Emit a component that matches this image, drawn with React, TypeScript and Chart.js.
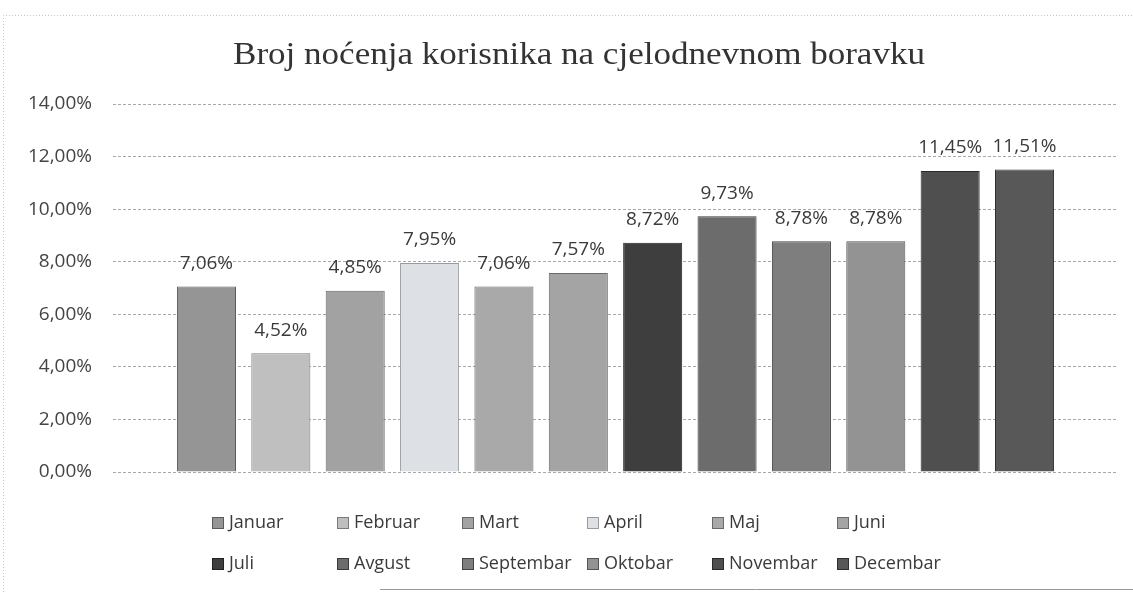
import React, { useEffect, useRef } from "react";
import { Chart, registerables } from "chart.js";

Chart.register(...registerables);

const titleText = "Broj noćenja korisnika na cjelodnevnom boravku";
const months = ["Januar", "Februar", "Mart", "April", "Maj", "Juni", "Juli", "Avgust", "Septembar", "Oktobar", "Novembar", "Decembar"];
const barValues = [7.06, 4.52, 6.9, 7.95, 7.06, 7.57, 8.72, 9.73, 8.78, 8.78, 11.45, 11.51];
const labelValues = [7.06, 4.52, 4.85, 7.95, 7.06, 7.57, 8.72, 9.73, 8.78, 8.78, 11.45, 11.51];
const barColors = ["#959595", "#bfbfbf", "#a2a2a2", "#dde0e4", "#a9a9a9", "#a4a4a4", "#3e3e3e", "#6c6c6c", "#7e7e7e", "#939393", "#4f4f4f", "#585858"];
const borderColors = ["#5a5a5a", "#7a7a7a", "#666", "#9a9a9a", "#6a6a6a", "#6a6a6a", "#222", "#3a3a3a", "#444", "#555", "#2a2a2a", "#2e2e2e"];
const yMin = 0;
const yMax = 14;
const yStep = 2;

const fmt = (v: number) => v.toFixed(2).replace(".", ",") + "%";

const FONT = "'Open Sans', 'Noto Sans', sans-serif";
const SERIF = "'Liberation Serif', 'DejaVu Serif', serif";

const titlePlugin = {
  id: "wideTitle",
  afterDraw(chart: any) {
    const ctx = chart.ctx;
    ctx.save();
    ctx.font = `31px ${SERIF}`;
    ctx.fillStyle = "#333";
    ctx.textAlign = "center";
    ctx.textBaseline = "alphabetic";
    const w = ctx.measureText(titleText).width;
    const sx = 692 / w;
    ctx.translate(579, 64);
    ctx.scale(sx, 1);
    ctx.fillText(titleText, 0, 0);
    ctx.restore();
  },
};

const labelPlugin = {
  id: "valueLabels",
  afterDatasetsDraw(chart: any) {
    const ctx = chart.ctx;
    ctx.save();
    ctx.font = `19px ${FONT}`;
    ctx.fillStyle = "#3a3a3a";
    ctx.textAlign = "center";
    ctx.textBaseline = "middle";
    chart.data.datasets.forEach((ds: any, i: number) => {
      const el = chart.getDatasetMeta(i).data[0];
      if (!el) return;
      ctx.fillText(fmt(labelValues[i]), el.x, el.y - 23);
    });
    ctx.restore();
  },
};

const legendPlugin = {
  id: "gridLegend",
  afterDraw(chart: any) {
    const ctx = chart.ctx;
    const left = 212;
    const colW = 125;
    const rowY = [523, 564];
    ctx.save();
    ctx.font = `18px ${FONT}`;
    ctx.textBaseline = "middle";
    ctx.textAlign = "left";
    months.forEach((m, i) => {
      const col = i % 6;
      const row = Math.floor(i / 6);
      const x = left + col * colW;
      const y = rowY[row];
      ctx.fillStyle = barColors[i];
      ctx.fillRect(x, y - 6, 12, 12);
      ctx.strokeStyle = borderColors[i];
      ctx.lineWidth = 1;
      ctx.strokeRect(x + 0.5, y - 5.5, 11, 11);
      ctx.fillStyle = "#3a3a3a";
      ctx.fillText(m, x + 17, y);
    });
    ctx.restore();
  },
};

const framePlugin = {
  id: "frame",
  beforeDraw(chart: any) {
    const ctx = chart.ctx;
    ctx.save();
    ctx.fillStyle = "#ffffff";
    ctx.fillRect(0, 0, chart.width, chart.height);
    ctx.strokeStyle = "#c8c8c8";
    ctx.setLineDash([1, 2]);
    ctx.lineWidth = 1;
    ctx.beginPath();
    ctx.moveTo(3.5, chart.height);
    ctx.lineTo(3.5, 15.5);
    ctx.lineTo(chart.width, 15.5);
    ctx.stroke();
    ctx.setLineDash([]);
    ctx.strokeStyle = "#9a9a9a";
    ctx.beginPath();
    ctx.moveTo(380, 589.5);
    ctx.lineTo(chart.width, 589.5);
    ctx.stroke();
    ctx.restore();
  },
};

export default function App() {
  const ref = useRef<HTMLCanvasElement>(null);
  useEffect(() => {
    if (!ref.current) return;
    const chart = new Chart(ref.current, {
      type: "bar",
      data: {
        labels: [""],
        datasets: months.map((m, i) => ({
          label: m,
          data: [barValues[i]],
          backgroundColor: barColors[i],
          borderColor: borderColors[i],
          borderWidth: 1,
          categoryPercentage: 0.888,
          barPercentage: 0.794,
        })),
      },
      options: {
        animation: false,
        responsive: true,
        maintainAspectRatio: false,
        layout: { padding: { left: 8, right: 15, top: 104, bottom: 120 } },
        plugins: {
          legend: { display: false },
          tooltip: { enabled: false },
          title: { display: false },
        },
        scales: {
          x: { display: false },
          y: {
            min: yMin,
            max: yMax,
            afterFit: (s: any) => {
              s.width = 105;
            },
            ticks: {
              stepSize: yStep,
              padding: 21,
              color: "#444",
              font: { family: FONT, size: 19 },
              callback: (v: any) => fmt(Number(v)),
            },
            border: { display: false, dash: [3, 2] },
            grid: {
              color: "#a8a8a8",
              lineWidth: 1,
              drawTicks: false,
            },
          },
        },
      },
      plugins: [framePlugin, labelPlugin, legendPlugin, titlePlugin],
    });
    return () => chart.destroy();
  }, []);
  return (
    <div style={{ position: "absolute", left: 0, top: 0, width: 1133, height: 592 }}>
      <canvas ref={ref} />
    </div>
  );
}
